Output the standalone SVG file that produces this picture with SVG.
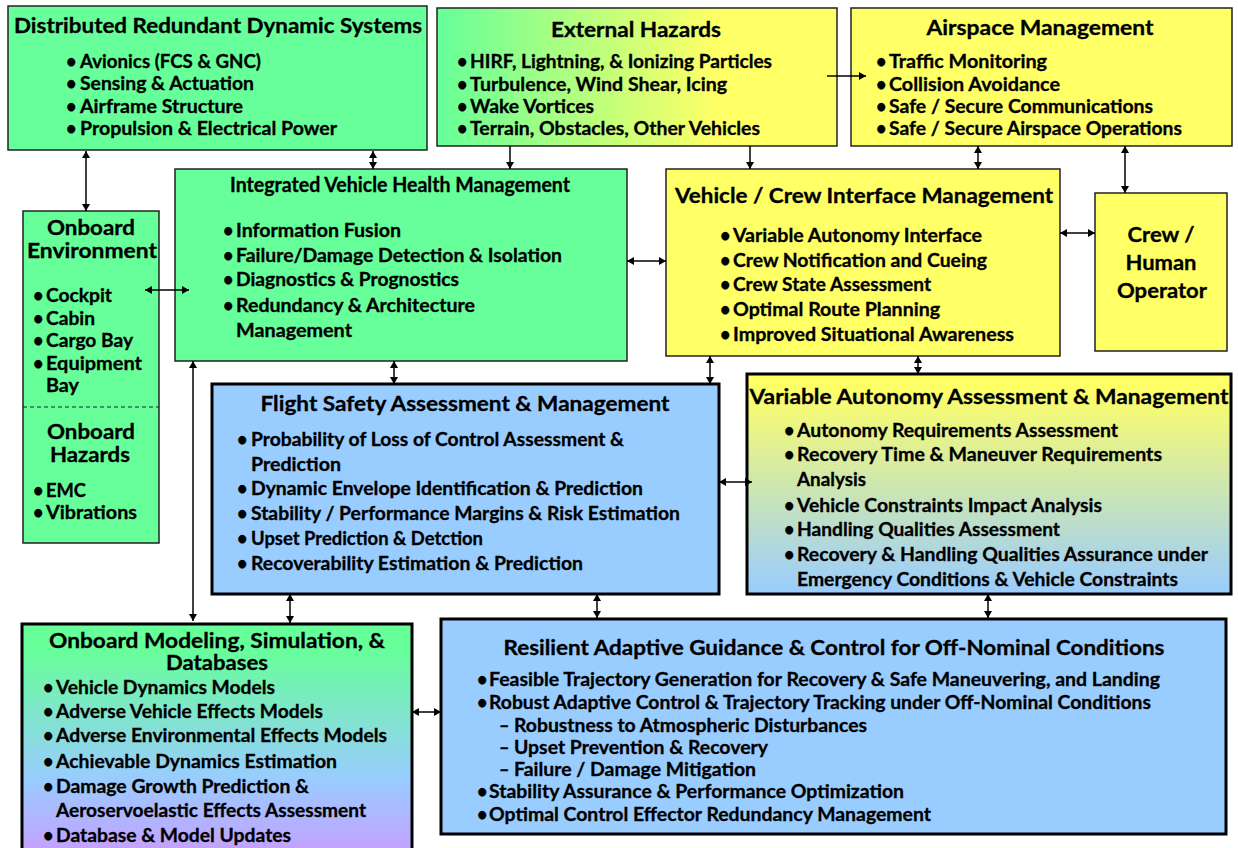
<svg xmlns="http://www.w3.org/2000/svg" width="1238" height="848" viewBox="0 0 1238 848">
<style>
.t{font-family:Lato,"Liberation Sans",sans-serif;font-weight:bold;fill:#000;stroke:#000;stroke-width:0.3}
.h{font-size:20px;text-anchor:middle}
.b{font-size:18px}
.thin{stroke:#222;stroke-width:1.5}
.thick{stroke:#000;stroke-width:3}
.g{fill:#66FF99}
.y{fill:#FFFF66}
.bl{fill:#99CCFF}
.cn{fill:none;stroke:#000;stroke-width:1.5;marker-end:url(#ah)}
.dbl{marker-start:url(#ah)}
</style>
<defs>
<marker id="ah" viewBox="0 0 10 10" refX="10" refY="5" markerWidth="7" markerHeight="8" markerUnits="userSpaceOnUse" orient="auto-start-reverse" preserveAspectRatio="none"><path d="M0,0 L10,5 L0,10 z" fill="#000"/></marker>
<linearGradient id="gEH" x1="0" y1="0" x2="1" y2="0"><stop offset="0" stop-color="#66FF99"/><stop offset="0.7" stop-color="#FFFF66"/><stop offset="1" stop-color="#FFFF66"/></linearGradient>
<linearGradient id="gVA" x1="0" y1="0" x2="0" y2="1"><stop offset="0.05" stop-color="#FFFF66"/><stop offset="1" stop-color="#99CCFF"/></linearGradient>
<linearGradient id="gOM" gradientUnits="userSpaceOnUse" x1="0" y1="624" x2="0" y2="864"><stop offset="0.1" stop-color="#66FF99"/><stop offset="0.65" stop-color="#99CCFF"/><stop offset="1" stop-color="#CC99FF"/></linearGradient>
</defs>

<g id="drds">
<rect x="8" y="6" width="419" height="144" class="g thin"/>
<text class="t h" x="218" y="33" textLength="408" lengthAdjust="spacingAndGlyphs">Distributed Redundant Dynamic Systems</text>
<text class="t b" x="66" y="68">•</text><text class="t b" x="80" y="68" textLength="181" lengthAdjust="spacingAndGlyphs">Avionics (FCS &amp; GNC)</text>
<text class="t b" x="66" y="90">•</text><text class="t b" x="80" y="90" textLength="174" lengthAdjust="spacingAndGlyphs">Sensing &amp; Actuation</text>
<text class="t b" x="66" y="113">•</text><text class="t b" x="80" y="113" textLength="163" lengthAdjust="spacingAndGlyphs">Airframe Structure</text>
<text class="t b" x="66" y="135">•</text><text class="t b" x="80" y="135" textLength="257" lengthAdjust="spacingAndGlyphs">Propulsion &amp; Electrical Power</text>
</g>

<g id="external-hazards">
<rect x="437" y="8" width="400" height="138" fill="url(#gEH)" class="thin"/>
<text class="t h" x="636" y="37" textLength="170" lengthAdjust="spacingAndGlyphs">External Hazards</text>
<text class="t b" x="457" y="68">•</text><text class="t b" x="470" y="68" textLength="302" lengthAdjust="spacingAndGlyphs">HIRF, Lightning, &amp; Ionizing Particles</text>
<text class="t b" x="457" y="91">•</text><text class="t b" x="470" y="91" textLength="257" lengthAdjust="spacingAndGlyphs">Turbulence, Wind Shear, Icing</text>
<text class="t b" x="457" y="113">•</text><text class="t b" x="470" y="113" textLength="124" lengthAdjust="spacingAndGlyphs">Wake Vortices</text>
<text class="t b" x="457" y="135">•</text><text class="t b" x="470" y="135" textLength="290" lengthAdjust="spacingAndGlyphs">Terrain, Obstacles, Other Vehicles</text>
</g>

<g id="airspace">
<rect x="851" y="8" width="381" height="138" class="y thin"/>
<text class="t h" x="1040" y="35" textLength="227" lengthAdjust="spacingAndGlyphs">Airspace Management</text>
<text class="t b" x="876" y="68">•</text><text class="t b" x="889" y="68" textLength="158" lengthAdjust="spacingAndGlyphs">Traffic Monitoring</text>
<text class="t b" x="876" y="91">•</text><text class="t b" x="889" y="91" textLength="171" lengthAdjust="spacingAndGlyphs">Collision Avoidance</text>
<text class="t b" x="876" y="113">•</text><text class="t b" x="889" y="113" textLength="264" lengthAdjust="spacingAndGlyphs">Safe / Secure Communications</text>
<text class="t b" x="876" y="135">•</text><text class="t b" x="889" y="135" textLength="293" lengthAdjust="spacingAndGlyphs">Safe / Secure Airspace Operations</text>
</g>

<g id="onboard-environment">
<rect x="23" y="211" width="136" height="332" class="g thin"/>
<text class="t h" x="91" y="235" textLength="88" lengthAdjust="spacingAndGlyphs">Onboard</text>
<text class="t h" x="92" y="258" textLength="130" lengthAdjust="spacingAndGlyphs">Environment</text>
<text class="t b" x="33" y="302">•</text><text class="t b" x="46" y="302" textLength="66" lengthAdjust="spacingAndGlyphs">Cockpit</text>
<text class="t b" x="33" y="325">•</text><text class="t b" x="46" y="325" textLength="49" lengthAdjust="spacingAndGlyphs">Cabin</text>
<text class="t b" x="33" y="347">•</text><text class="t b" x="46" y="347" textLength="87" lengthAdjust="spacingAndGlyphs">Cargo Bay</text>
<text class="t b" x="33" y="370">•</text><text class="t b" x="46" y="370" textLength="96" lengthAdjust="spacingAndGlyphs">Equipment</text>
<text class="t b" x="46" y="392" textLength="33" lengthAdjust="spacingAndGlyphs">Bay</text>
<line x1="23" y1="407" x2="159" y2="407" stroke="#222" stroke-width="1.2" stroke-dasharray="4,3"/>
<text class="t h" x="91" y="439" textLength="88" lengthAdjust="spacingAndGlyphs">Onboard</text>
<text class="t h" x="90" y="462" textLength="80" lengthAdjust="spacingAndGlyphs">Hazards</text>
<text class="t b" x="33" y="497">•</text><text class="t b" x="46" y="497" textLength="40" lengthAdjust="spacingAndGlyphs">EMC</text>
<text class="t b" x="33" y="519">•</text><text class="t b" x="46" y="519" textLength="91" lengthAdjust="spacingAndGlyphs">Vibrations</text>
</g>

<g id="ivhm">
<rect x="175" y="169" width="452" height="192" class="g thin"/>
<text class="t h" x="400" y="192" font-size="17" textLength="340" lengthAdjust="spacingAndGlyphs">Integrated Vehicle Health Management</text>
<text class="t b" x="223" y="237">•</text><text class="t b" x="236" y="237" textLength="165" lengthAdjust="spacingAndGlyphs">Information Fusion</text>
<text class="t b" x="223" y="262">•</text><text class="t b" x="236" y="262" textLength="326" lengthAdjust="spacingAndGlyphs">Failure/Damage Detection &amp; Isolation</text>
<text class="t b" x="223" y="286">•</text><text class="t b" x="236" y="286" textLength="223" lengthAdjust="spacingAndGlyphs">Diagnostics &amp; Prognostics</text>
<text class="t b" x="223" y="312">•</text><text class="t b" x="236" y="312" textLength="239" lengthAdjust="spacingAndGlyphs">Redundancy &amp; Architecture</text>
<text class="t b" x="236" y="337" textLength="116" lengthAdjust="spacingAndGlyphs">Management</text>
</g>

<g id="vehicle-crew">
<rect x="666" y="169" width="394" height="187" class="y thin"/>
<text class="t h" x="864" y="203" textLength="378" lengthAdjust="spacingAndGlyphs">Vehicle / Crew Interface Management</text>
<text class="t b" x="720" y="242">•</text><text class="t b" x="733" y="242" textLength="249" lengthAdjust="spacingAndGlyphs">Variable Autonomy Interface</text>
<text class="t b" x="720" y="267">•</text><text class="t b" x="733" y="267" textLength="254" lengthAdjust="spacingAndGlyphs">Crew Notification and Cueing</text>
<text class="t b" x="720" y="291">•</text><text class="t b" x="733" y="291" textLength="198" lengthAdjust="spacingAndGlyphs">Crew State Assessment</text>
<text class="t b" x="720" y="316">•</text><text class="t b" x="733" y="316" textLength="207" lengthAdjust="spacingAndGlyphs">Optimal Route Planning</text>
<text class="t b" x="720" y="341">•</text><text class="t b" x="733" y="341" textLength="281" lengthAdjust="spacingAndGlyphs">Improved Situational Awareness</text>
</g>

<g id="crew">
<rect x="1095" y="193" width="132" height="158" class="y thin"/>
<text class="t h" x="1161" y="242" font-size="22" textLength="67" lengthAdjust="spacingAndGlyphs">Crew /</text>
<text class="t h" x="1161" y="270" font-size="22" textLength="71" lengthAdjust="spacingAndGlyphs">Human</text>
<text class="t h" x="1162" y="298" font-size="22" textLength="90" lengthAdjust="spacingAndGlyphs">Operator</text>
</g>

<g id="flight-safety">
<rect x="212" y="384" width="507" height="210" class="bl thick"/>
<text class="t h" x="465" y="411" textLength="409" lengthAdjust="spacingAndGlyphs">Flight Safety Assessment &amp; Management</text>
<text class="t b" x="237" y="446">•</text><text class="t b" x="251" y="446" textLength="373" lengthAdjust="spacingAndGlyphs">Probability of Loss of Control Assessment &amp;</text>
<text class="t b" x="251" y="471" textLength="90" lengthAdjust="spacingAndGlyphs">Prediction</text>
<text class="t b" x="237" y="495">•</text><text class="t b" x="251" y="495" textLength="392" lengthAdjust="spacingAndGlyphs">Dynamic Envelope Identification &amp; Prediction</text>
<text class="t b" x="237" y="520">•</text><text class="t b" x="251" y="520" textLength="429" lengthAdjust="spacingAndGlyphs">Stability / Performance Margins &amp; Risk Estimation</text>
<text class="t b" x="237" y="545">•</text><text class="t b" x="251" y="545" textLength="232" lengthAdjust="spacingAndGlyphs">Upset Prediction &amp; Detction</text>
<text class="t b" x="237" y="570">•</text><text class="t b" x="251" y="570" textLength="332" lengthAdjust="spacingAndGlyphs">Recoverability Estimation &amp; Prediction</text>
</g>

<g id="variable-autonomy">
<rect x="747" y="374" width="484" height="220" fill="url(#gVA)" class="thick"/>
<text class="t h" x="989" y="404" textLength="479" lengthAdjust="spacingAndGlyphs">Variable Autonomy Assessment &amp; Management</text>
<text class="t b" x="784" y="437">•</text><text class="t b" x="797" y="437" textLength="321" lengthAdjust="spacingAndGlyphs">Autonomy Requirements Assessment</text>
<text class="t b" x="784" y="461">•</text><text class="t b" x="797" y="461" textLength="365" lengthAdjust="spacingAndGlyphs">Recovery Time &amp; Maneuver Requirements</text>
<text class="t b" x="797" y="486" textLength="69" lengthAdjust="spacingAndGlyphs">Analysis</text>
<text class="t b" x="784" y="512">•</text><text class="t b" x="797" y="512" textLength="305" lengthAdjust="spacingAndGlyphs">Vehicle Constraints Impact Analysis</text>
<text class="t b" x="784" y="536">•</text><text class="t b" x="797" y="536" textLength="263" lengthAdjust="spacingAndGlyphs">Handling Qualities Assessment</text>
<text class="t b" x="784" y="561">•</text><text class="t b" x="797" y="561" textLength="411" lengthAdjust="spacingAndGlyphs">Recovery &amp; Handling Qualities Assurance under</text>
<text class="t b" x="797" y="586" textLength="381" lengthAdjust="spacingAndGlyphs">Emergency Conditions &amp; Vehicle Constraints</text>
</g>

<g id="onboard-modeling">
<rect x="22" y="624" width="390" height="240" fill="url(#gOM)" class="thick"/>
<text class="t h" x="217" y="648" textLength="336" lengthAdjust="spacingAndGlyphs">Onboard Modeling, Simulation, &amp;</text>
<text class="t h" x="217" y="670" textLength="102" lengthAdjust="spacingAndGlyphs">Databases</text>
<text class="t b" x="43" y="694">•</text><text class="t b" x="56" y="694" textLength="219" lengthAdjust="spacingAndGlyphs">Vehicle Dynamics Models</text>
<text class="t b" x="43" y="718">•</text><text class="t b" x="56" y="718" textLength="267" lengthAdjust="spacingAndGlyphs">Adverse Vehicle Effects Models</text>
<text class="t b" x="43" y="742">•</text><text class="t b" x="56" y="742" textLength="331" lengthAdjust="spacingAndGlyphs">Adverse Environmental Effects Models</text>
<text class="t b" x="43" y="768">•</text><text class="t b" x="56" y="768" textLength="281" lengthAdjust="spacingAndGlyphs">Achievable Dynamics Estimation</text>
<text class="t b" x="43" y="793">•</text><text class="t b" x="56" y="793" textLength="253" lengthAdjust="spacingAndGlyphs">Damage Growth Prediction &amp;</text>
<text class="t b" x="56" y="817" textLength="310" lengthAdjust="spacingAndGlyphs">Aeroservoelastic Effects Assessment</text>
<text class="t b" x="43" y="842">•</text><text class="t b" x="56" y="842" textLength="235" lengthAdjust="spacingAndGlyphs">Database &amp; Model Updates</text>
</g>

<g id="resilient">
<rect x="441" y="619" width="785" height="215" class="bl thick"/>
<text class="t h" x="834" y="655" textLength="661" lengthAdjust="spacingAndGlyphs">Resilient Adaptive Guidance &amp; Control for Off-Nominal Conditions</text>
<text class="t b" x="477" y="686">•</text><text class="t b" x="489" y="686" textLength="671" lengthAdjust="spacingAndGlyphs">Feasible Trajectory Generation for Recovery &amp; Safe Maneuvering, and Landing</text>
<text class="t b" x="477" y="709">•</text><text class="t b" x="489" y="709" textLength="662" lengthAdjust="spacingAndGlyphs">Robust Adaptive Control &amp; Trajectory Tracking under Off-Nominal Conditions</text>
<text class="t b" x="499" y="732">–</text><text class="t b" x="514" y="732" textLength="353" lengthAdjust="spacingAndGlyphs">Robustness to Atmospheric Disturbances</text>
<text class="t b" x="499" y="754">–</text><text class="t b" x="514" y="754" textLength="254" lengthAdjust="spacingAndGlyphs">Upset Prevention &amp; Recovery</text>
<text class="t b" x="499" y="776">–</text><text class="t b" x="514" y="776" textLength="242" lengthAdjust="spacingAndGlyphs">Failure / Damage Mitigation</text>
<text class="t b" x="477" y="798">•</text><text class="t b" x="489" y="798" textLength="415" lengthAdjust="spacingAndGlyphs">Stability Assurance &amp; Performance Optimization</text>
<text class="t b" x="477" y="821">•</text><text class="t b" x="489" y="821" textLength="442" lengthAdjust="spacingAndGlyphs">Optimal Control Effector Redundancy Management</text>
</g>

<g id="connectors">
<line class="cn dbl" x1="86" y1="151" x2="86" y2="211"/>
<line class="cn dbl" x1="373" y1="151" x2="373" y2="169"/>
<line class="cn" x1="510" y1="146" x2="510" y2="169"/>
<line class="cn" x1="750" y1="146" x2="750" y2="169"/>
<line class="cn" x1="827" y1="76" x2="866" y2="76"/>
<line class="cn dbl" x1="978" y1="146" x2="978" y2="169"/>
<line class="cn dbl" x1="1125" y1="146" x2="1125" y2="193"/>
<line class="cn dbl" x1="1060" y1="233" x2="1095" y2="233"/>
<line class="cn dbl" x1="627" y1="261" x2="666" y2="261"/>
<line class="cn dbl" x1="145" y1="290" x2="189" y2="290"/>
<line class="cn dbl" x1="394" y1="361" x2="394" y2="384"/>
<line class="cn dbl" x1="710" y1="356" x2="710" y2="384"/>
<line class="cn dbl" x1="918" y1="356" x2="918" y2="374"/>
<line class="cn dbl" x1="719" y1="482" x2="752" y2="482"/>
<line class="cn dbl" x1="193" y1="361" x2="193" y2="621"/>
<line class="cn dbl" x1="290" y1="594" x2="290" y2="623"/>
<line class="cn dbl" x1="597" y1="594" x2="597" y2="618"/>
<line class="cn dbl" x1="988" y1="594" x2="988" y2="618"/>
<line class="cn dbl" x1="412" y1="712" x2="441" y2="712"/>
</g>
</svg>
